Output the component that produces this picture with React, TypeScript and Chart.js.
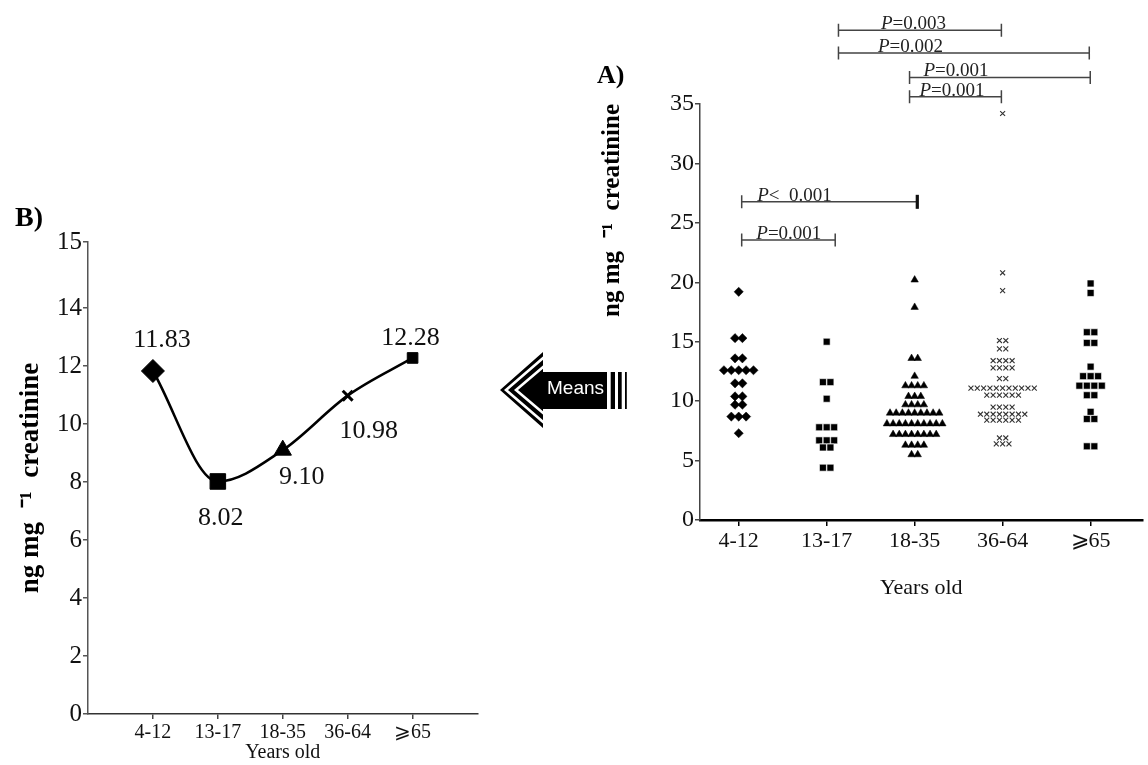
import React, { useEffect, useRef } from 'react';
import { Chart, registerables, LinearScale } from 'chart.js';

Chart.register(...registerables);

// ---------------- data ----------------
const AGE_GROUPS = ['4-12', '13-17', '18-35', '36-64', '⩾65'];

const VALUES_4_12 = [19.2, 15.3, 15.3, 13.6, 13.6, 12.6, 12.6, 12.6, 12.6, 12.6, 11.5, 11.5, 10.4, 10.4, 9.7, 9.7, 8.7, 8.7, 8.7, 7.3];
const VALUES_13_17 = [15.0, 11.6, 11.6, 10.2, 7.8, 7.8, 7.8, 6.7, 6.7, 6.7, 6.1, 6.1, 4.4, 4.4];
const VALUES_18_35 = [20.2, 17.9, 13.6, 13.6, 12.1, 11.3, 11.3, 11.3, 11.3, 10.4, 10.4, 10.4, 9.7, 9.7, 9.7, 9.7,
  9.0, 9.0, 9.0, 9.0, 9.0, 9.0, 9.0, 9.0, 9.0,
  8.1, 8.1, 8.1, 8.1, 8.1, 8.1, 8.1, 8.1, 8.1, 8.1,
  7.2, 7.2, 7.2, 7.2, 7.2, 7.2, 7.2, 7.2,
  6.3, 6.3, 6.3, 6.3, 5.5, 5.5];
const VALUES_36_64 = [34.2, 20.8, 19.3, 15.1, 15.1, 14.4, 14.4, 13.4, 13.4, 13.4, 13.4, 12.8, 12.8, 12.8, 12.8, 11.9, 11.9,
  11.1, 11.1, 11.1, 11.1, 11.1, 11.1, 11.1, 11.1, 11.1, 11.1, 11.1,
  10.5, 10.5, 10.5, 10.5, 10.5, 10.5,
  9.5, 9.5, 9.5, 9.5,
  8.9, 8.9, 8.9, 8.9, 8.9, 8.9, 8.9, 8.9,
  8.4, 8.4, 8.4, 8.4, 8.4, 8.4,
  6.9, 6.9, 6.4, 6.4, 6.4];
const VALUES_65 = [19.9, 19.1, 15.8, 15.8, 14.9, 14.9, 12.9, 12.1, 12.1, 12.1, 11.3, 11.3, 11.3, 11.3, 10.5, 10.5, 9.1, 8.5, 8.5, 6.2, 6.2];

const GROUP_VALUES = [VALUES_4_12, VALUES_13_17, VALUES_18_35, VALUES_36_64, VALUES_65];

const MEANS = [11.83, 8.02, 9.10, 10.98, 12.28];
const MEAN_LABELS = ['11.83', '8.02', '9.10', '10.98', '12.28'];

const A_Y_TICKS = [0, 5, 10, 15, 20, 25, 30, 35];
const B_Y_TICKS = [0, 2, 4, 6, 8, 10, 12, 14, 15];

// significance brackets (positions in axis units of panel A)
const P_BRACKETS = [
  { from: 2.134, to: 3.986, y: 41.2, rel: '=0.003', textAt: 2.617, heavyEnd: false },
  { from: 2.134, to: 4.985, y: 39.3, rel: '=0.002', textAt: 2.583, heavyEnd: false },
  { from: 2.942, to: 4.996, y: 37.23, rel: '=0.001', textAt: 3.10, heavyEnd: false },
  { from: 2.942, to: 3.986, y: 35.6, rel: '=0.001', textAt: 3.054, heavyEnd: false },
  { from: 1.034, to: 3.03, y: 26.77, rel: '<  0.001', textAt: 1.21, heavyEnd: true },
  { from: 1.034, to: 2.097, y: 23.55, rel: '=0.001', textAt: 1.20, heavyEnd: false },
];

// ---------------- styles ----------------
const SERIF = "'Liberation Serif', 'Times New Roman', serif";
const SANS = "'Liberation Sans', Arial, sans-serif";

const A_MARKERS = [
  { style: 'rectRot', radius: 4.6, spacing: 0.084, fill: '#000', border: '#000', bw: 0.5 },
  { style: 'rect', radius: 4.9, spacing: 0.085, fill: '#000', border: '#fff', bw: 0.6 },
  { style: 'triangle', radius: 4.3, spacing: 0.07, fill: '#000', border: '#000', bw: 0.5 },
  { style: 'crossRot', radius: 3.5, spacing: 0.072, fill: '#333', border: '#333', bw: 1.1 },
  { style: 'rect', radius: 4.9, spacing: 0.085, fill: '#000', border: '#fff', bw: 0.6 },
];

const B_MARKERS = [
  { style: 'rectRot', radius: 11.5, bw: 1 },
  { style: 'rect', radius: 11, bw: 1 },
  { style: 'triangle', radius: 10, bw: 1 },
  { style: 'crossRot', radius: 7, bw: 3 },
  { style: 'rect', radius: 7.5, bw: 1 },
];
const B_LABEL_OFFSETS = [[9, -31], [3, 37], [19, 27], [21, 36], [-2, -20]];

// broken (piecewise-linear) value axis used by panel B
const B_Y_BREAK_VALUES = [0, 14, 15];
const B_Y_BREAK_FRACTIONS = [0, 0.86, 1];

class BrokenLinearScale extends LinearScale {
  static id = 'brokenLinear';
  getPixelForValue(value: any) {
    if (value === null || value === undefined || isNaN(value)) return NaN;
    const vs = B_Y_BREAK_VALUES;
    const fs = B_Y_BREAK_FRACTIONS;
    let i = 0;
    while (i < vs.length - 2 && value > vs[i + 1]) i++;
    const d = fs[i] + ((value - vs[i]) / (vs[i + 1] - vs[i])) * (fs[i + 1] - fs[i]);
    return this.getPixelForDecimal(d);
  }
  getValueForPixel(pixel: number) {
    const d = this.getDecimalForPixel(pixel);
    const vs = B_Y_BREAK_VALUES;
    const fs = B_Y_BREAK_FRACTIONS;
    let i = 0;
    while (i < fs.length - 2 && d > fs[i + 1]) i++;
    return vs[i] + ((d - fs[i]) / (fs[i + 1] - fs[i])) * (vs[i + 1] - vs[i]);
  }
}
Chart.register(BrokenLinearScale as any);

function beeswarm(values: number[], center: number, spacing: number) {
  const counts = new Map<number, number>();
  values.forEach((v) => counts.set(v, (counts.get(v) || 0) + 1));
  const seen = new Map<number, number>();
  return values.map((v) => {
    const n = counts.get(v) as number;
    const k = seen.get(v) || 0;
    seen.set(v, k + 1);
    return { x: center + (k - (n - 1) / 2) * spacing, y: v };
  });
}

const bracketPlugin = {
  id: 'pBrackets',
  afterDraw(chart: any) {
    const { ctx } = chart;
    const xs = chart.scales.x;
    const ys = chart.scales.y;
    ctx.save();
    P_BRACKETS.forEach((b) => {
      const x1 = xs.getPixelForValue(b.from);
      const x2 = xs.getPixelForValue(b.to);
      const py = ys.getPixelForValue(b.y);
      ctx.strokeStyle = '#444';
      ctx.lineWidth = 1.5;
      ctx.beginPath();
      ctx.moveTo(x1, py);
      ctx.lineTo(x2, py);
      ctx.moveTo(x1, py - 6.5);
      ctx.lineTo(x1, py + 6.5);
      ctx.moveTo(x2, py - 6.5);
      ctx.lineTo(x2, py + 6.5);
      ctx.stroke();
      if (b.heavyEnd) {
        ctx.lineWidth = 3.2;
        ctx.strokeStyle = '#111';
        ctx.beginPath();
        ctx.moveTo(x2, py - 7);
        ctx.lineTo(x2, py + 7);
        ctx.stroke();
      }
      const tx = xs.getPixelForValue(b.textAt);
      ctx.fillStyle = '#222';
      ctx.textAlign = 'left';
      ctx.textBaseline = 'alphabetic';
      ctx.font = `italic 19px ${SERIF}`;
      ctx.fillText('P', tx, py - 1);
      const w = ctx.measureText('P').width;
      ctx.font = `19px ${SERIF}`;
      ctx.fillText(b.rel, tx + w, py - 1);
    });

    // panel letter
    ctx.fillStyle = '#000';
    ctx.font = `bold 26px ${SERIF}`;
    ctx.textBaseline = 'middle';
    ctx.fillText('A)', 107, 76);

    // "Means" arrow pointing toward panel B
    const tipX = 10, cy = 390, baseX = 53, half = 38, bodyTop = 372, bodyBottom = 409, bodyRight = 117;
    const slope = half / (baseX - tipX);
    ctx.fillStyle = '#000';
    ctx.beginPath();
    ctx.moveTo(tipX, cy);
    ctx.lineTo(baseX, cy - half);
    ctx.lineTo(baseX, bodyTop);
    ctx.lineTo(bodyRight, bodyTop);
    ctx.lineTo(bodyRight, bodyBottom);
    ctx.lineTo(baseX, bodyBottom);
    ctx.lineTo(baseX, cy + half);
    ctx.closePath();
    ctx.fill();
    ctx.strokeStyle = '#fff';
    ctx.lineWidth = 2.6;
    [6, 16].forEach((o) => {
      const t = tipX + o;
      const dy = (baseX - t) * slope;
      ctx.beginPath();
      ctx.moveTo(baseX + 1, cy - dy);
      ctx.lineTo(t, cy);
      ctx.lineTo(baseX + 1, cy + dy);
      ctx.stroke();
    });
    ctx.fillStyle = '#000';
    ctx.fillRect(120.7, bodyTop, 4.3, bodyBottom - bodyTop);
    ctx.fillRect(128, bodyTop, 3.7, bodyBottom - bodyTop);
    ctx.fillRect(135, bodyTop, 1.8, bodyBottom - bodyTop);
    ctx.fillStyle = '#fff';
    ctx.font = `19px ${SANS}`;
    ctx.textAlign = 'center';
    ctx.textBaseline = 'middle';
    ctx.fillText('Means', 85.5, 389);
    ctx.restore();
  },
};

const meanLabelPlugin = {
  id: 'meanLabels',
  afterDatasetsDraw(chart: any) {
    const { ctx } = chart;
    const meta = chart.getDatasetMeta(0);
    ctx.save();
    ctx.fillStyle = '#111';
    ctx.font = `26px ${SERIF}`;
    ctx.textAlign = 'center';
    ctx.textBaseline = 'middle';
    meta.data.forEach((pt: any, i: number) => {
      ctx.fillText(MEAN_LABELS[i], pt.x + B_LABEL_OFFSETS[i][0], pt.y + B_LABEL_OFFSETS[i][1]);
    });
    ctx.fillStyle = '#000';
    ctx.font = `bold 28px ${SERIF}`;
    ctx.textAlign = 'left';
    ctx.fillText('B)', 15, 219);
    ctx.restore();
  },
};

export default function App() {
  const refA = useRef<HTMLCanvasElement>(null);
  const refB = useRef<HTMLCanvasElement>(null);

  useEffect(() => {
    const datasetsA = GROUP_VALUES.map((vals, gi) => {
      const m = A_MARKERS[gi];
      return {
        label: AGE_GROUPS[gi],
        data: beeswarm(vals, gi + 1, m.spacing),
        pointStyle: m.style,
        pointRadius: m.radius,
        pointHoverRadius: m.radius,
        backgroundColor: m.fill,
        borderColor: m.border,
        borderWidth: m.bw,
        clip: false,
      };
    });

    const chartA = new Chart(refA.current as HTMLCanvasElement, {
      type: 'scatter',
      data: { datasets: datasetsA as any },
      plugins: [bracketPlugin],
      options: {
        animation: false,
        responsive: false,
        events: [],
        layout: { padding: { top: 104, left: 100, right: 0, bottom: 155 } },
        plugins: { legend: { display: false }, tooltip: { enabled: false } },
        scales: {
          x: {
            type: 'linear',
            min: 0.56,
            max: 5.59,
            afterBuildTicks: (s: any) => {
              s.ticks = AGE_GROUPS.map((_, i) => ({ value: i + 1 }));
            },
            afterFit: (s: any) => {
              s.height = 90;
            },
            ticks: {
              callback: (_v: any, i: number) => AGE_GROUPS[i],
              font: { family: SERIF, size: 22 },
              color: '#111',
              padding: 2,
              maxRotation: 0,
              autoSkip: false,
            },
            grid: { display: true, drawOnChartArea: false, drawTicks: true, tickLength: 6, color: '#000', lineWidth: 1.5 },
            border: { display: true, color: '#000', width: 2.5 },
            title: { display: true, text: 'Years old', font: { family: SERIF, size: 22 }, color: '#111', padding: { top: 0, bottom: 8.8 } },
          },
          y: {
            type: 'linear',
            min: 0,
            max: 35,
            afterBuildTicks: (s: any) => {
              s.ticks = A_Y_TICKS.map((v) => ({ value: v }));
            },
            afterFit: (s: any) => {
              s.width = 110;
            },
            ticks: { font: { family: SERIF, size: 24 }, color: '#111', padding: 1 },
            grid: { display: true, drawOnChartArea: false, drawTicks: true, tickLength: 5, color: '#444', lineWidth: 1.5 },
            border: { display: true, color: '#444', width: 1.5 },
            title: {
              display: true,
              text: 'ng mg  ⁻¹  creatinine',
              align: 'end',
              font: { family: SERIF, size: 25, weight: 'bold' },
              color: '#000',
              padding: { top: 7.5, bottom: 0 },
            },
          },
        },
      } as any,
    });

    const chartB = new Chart(refB.current as HTMLCanvasElement, {
      type: 'line',
      data: {
        datasets: [
          {
            label: 'Means',
            data: MEANS.map((m, i) => ({ x: i, y: m })),
            borderColor: '#000',
            borderWidth: 2.5,
            fill: false,
            cubicInterpolationMode: 'monotone',
            pointStyle: B_MARKERS.map((m) => m.style),
            pointRadius: B_MARKERS.map((m) => m.radius),
            pointHoverRadius: B_MARKERS.map((m) => m.radius),
            pointBorderWidth: B_MARKERS.map((m) => m.bw),
            pointBackgroundColor: '#000',
            pointBorderColor: '#000',
            clip: false,
          },
        ] as any,
      },
      plugins: [meanLabelPlugin],
      options: {
        animation: false,
        responsive: false,
        events: [],
        layout: { padding: { top: 242, left: 0, right: 10.5, bottom: 0 } },
        plugins: { legend: { display: false }, tooltip: { enabled: false } },
        scales: {
          x: {
            type: 'linear',
            min: -1,
            max: 5,
            afterBuildTicks: (s: any) => {
              s.ticks = AGE_GROUPS.map((_, i) => ({ value: i }));
            },
            afterFit: (s: any) => {
              s.height = 51;
            },
            ticks: {
              callback: (_v: any, i: number) => AGE_GROUPS[i],
              font: { family: SERIF, size: 20 },
              color: '#111',
              padding: 2,
              maxRotation: 0,
              autoSkip: false,
            },
            grid: { display: true, drawOnChartArea: false, drawTicks: true, tickLength: 5, color: '#444', lineWidth: 1.5 },
            border: { display: true, color: '#333', width: 1.5 },
            title: { display: true, text: 'Years old', font: { family: SERIF, size: 20 }, color: '#111', padding: { top: 0, bottom: 0 } },
          },
          y: {
            type: 'brokenLinear',
            min: 0,
            max: 15,
            afterBuildTicks: (s: any) => {
              s.ticks = B_Y_TICKS.map((v) => ({ value: v }));
            },
            afterFit: (s: any) => {
              s.width = 88;
            },
            ticks: { font: { family: SERIF, size: 25 }, color: '#111', padding: 1 },
            grid: { display: true, drawOnChartArea: false, drawTicks: true, tickLength: 5, color: '#555', lineWidth: 1.5 },
            border: { display: true, color: '#555', width: 1.5 },
            title: {
              display: true,
              text: 'ng mg  ⁻¹  creatinine',
              font: { family: SERIF, size: 27, weight: 'bold' },
              color: '#000',
              padding: { top: 15, bottom: 0 },
            },
          },
        },
      } as any,
    });

    return () => {
      chartA.destroy();
      chartB.destroy();
    };
  }, []);

  return (
    <div style={{ position: 'fixed', left: 0, top: 0, width: 1148, height: 765, background: '#fff', overflow: 'hidden' }}>
      <canvas ref={refB} width={490} height={765} style={{ position: 'absolute', left: 0, top: 0, width: 490, height: 765 }} />
      <canvas ref={refA} width={658} height={765} style={{ position: 'absolute', left: 490, top: 0, width: 658, height: 765 }} />
    </div>
  );
}
